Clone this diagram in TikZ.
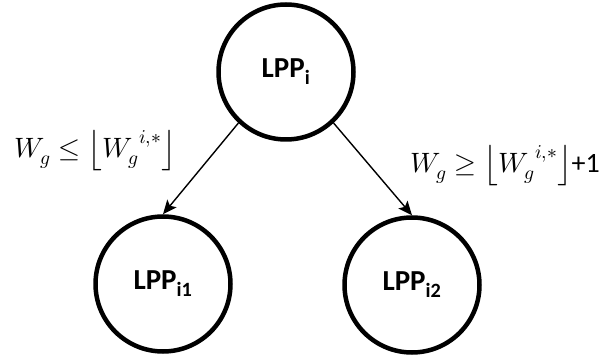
\documentclass[tikz,border=0pt]{standalone}
\usepackage{fontspec}
\usepackage{unicode-math}
\setmainfont{Carlito}
\setmathfont{Latin Modern Math}
\usetikzlibrary{arrows.meta}
\tikzset{
  lpp/.style={circle,draw,line width=4.5pt,minimum size=135pt,inner sep=0pt,font=\fontsize{29}{32}\selectfont\bfseries},
  branch/.style={line width=1.4pt,-{Stealth[length=14pt,width=12pt,inset=3pt]}},
  cond/.style={font=\fontsize{28}{32}\selectfont,inner sep=0pt}
}
\begin{document}
\begin{tikzpicture}[x=1pt,y=-1pt]
\useasboundingbox (0,0) rectangle (608,355);
\node[lpp] (top) at (286,72) {LPP\textsubscript{i}};
\node[lpp] (l) at (163,284) {LPP\textsubscript{i1}};
\node[lpp] (r) at (412,285) {LPP\textsubscript{i2}};
\draw[branch] (top.-133) -- (l.north);
\draw[branch] (top.-47) -- (r.north);
\node[cond] (cl) at (95,151) {$W_g \leq \left\lfloor {W_g}^{i,*} \right\rfloor$};
\node[cond] (cr) at (505,166) {$W_g \geq \left\lfloor {W_g}^{i,*} \right\rfloor$+1};
\end{tikzpicture}
\end{document}
